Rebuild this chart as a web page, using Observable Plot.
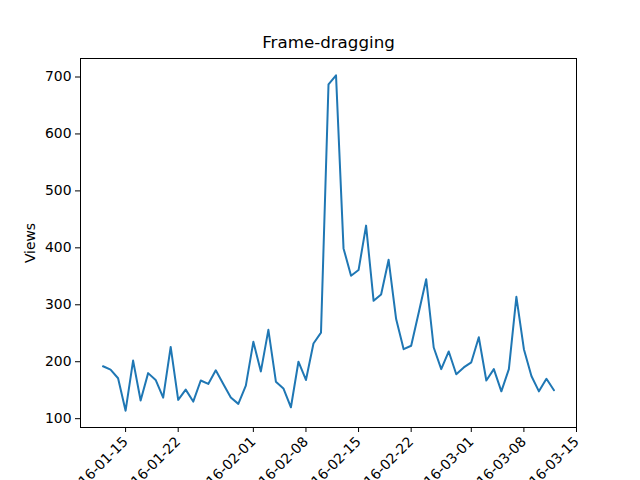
<!DOCTYPE html>
<html>
<head>
<meta charset="utf-8">
<script src="https://cdn.jsdelivr.net/npm/d3@7"></script>
<script src="https://cdn.jsdelivr.net/npm/@observablehq/plot@0.6"></script>
<style>
  body { margin: 0; background: #fff; }
</style>
</head>
<body>
<div id="chart"></div>
<script>
// Vistas diarias desde 2016-01-12
const startDate = "2016-01-12";
const views = [
  192, 186, 171, 114, 202, 132, 180, 168, 137, 226,
  133, 151, 130, 167, 161, 185, 161, 137, 126, 158,
  235, 183, 256, 165, 153, 120, 200, 168, 232, 251,
  687, 703, 399, 351, 361, 439, 307, 318, 379, 275,
  222, 228, 286, 345, 225, 187, 218, 178, 190, 199,
  243, 167, 187, 148, 187, 314, 222, 175, 148, 170,
  150
];
const tickDates = ["2016-01-15", "2016-01-22", "2016-02-01", "2016-02-08", "2016-02-15",
  "2016-02-22", "2016-03-01", "2016-03-08", "2016-03-15"];
const yTicks = [100, 200, 300, 400, 500, 600, 700];

const t0 = new Date(startDate + "T00:00:00Z");
const data = views.map((v, i) => ({ date: d3.utcDay.offset(t0, i), views: v }));

const chart = Plot.plot({
  width: 640,
  height: 480,
  marginLeft: 80,
  marginRight: 64,
  marginTop: 58,
  marginBottom: 53,
  style: { fontFamily: "DejaVu Sans", fontSize: "13.9px", color: "#000", background: "#fff" },
  x: {
    type: "utc",
    domain: [new Date("2016-01-09T00:00:00Z"), new Date("2016-03-15T00:00:00Z")],
    ticks: tickDates.map(d => new Date(d + "T00:00:00Z")),
    tickFormat: d3.utcFormat("%Y-%m-%d"),
    tickRotate: -45,
    tickSize: 5,
    label: null
  },
  y: {
    domain: [84.5, 732.5],
    ticks: yTicks,
    tickSize: 5,
    label: "Views",
    labelAnchor: "center",
    labelArrow: "none",
    labelOffset: 55
  },
  marks: [
    Plot.frame({ stroke: "#000" }),
    Plot.lineY(data, { x: "date", y: "views", stroke: "#1f77b4", strokeWidth: 2 }),
    Plot.text(["Frame-dragging"], { frameAnchor: "top", dy: -22, fontSize: 16.7 })
  ]
});

d3.select("#chart").append(() => chart);
</script>
</body>
</html>
